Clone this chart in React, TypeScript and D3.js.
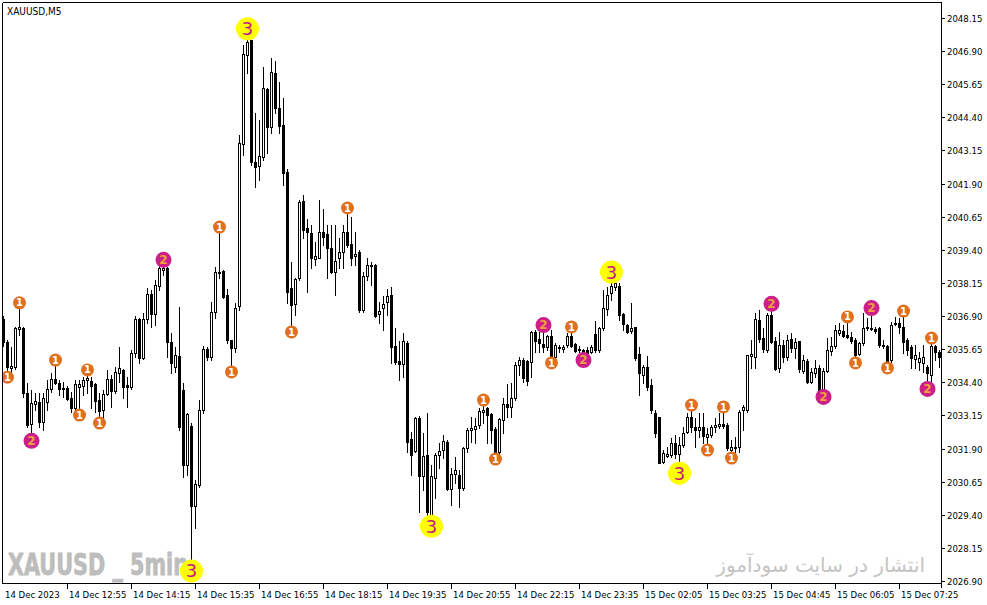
import * as d3 from 'd3';

// XAUUSD M5 bars, 14 Dec 2023 11:35 onwards
const opens = [
  2036.79, 2035.92, 2034.94, 2034.98, 2036.41, 2036.45, 2034.00, 2032.83, 2033.58, 2033.65,
  2032.90, 2033.65, 2034.15, 2034.53, 2034.38, 2034.19, 2034.19, 2033.81, 2033.43, 2034.23,
  2034.26, 2034.49, 2034.45, 2034.34, 2033.73, 2033.35, 2033.96, 2034.53, 2034.07, 2034.75,
  2034.86, 2034.30, 2034.23, 2035.51, 2036.79, 2035.32, 2036.79, 2037.74, 2036.98, 2038.04,
  2038.64, 2038.72, 2035.92, 2034.98, 2035.40, 2034.11, 2031.28, 2032.75, 2029.73, 2030.52,
  2033.35, 2035.66, 2035.36, 2037.05, 2038.53, 2038.60, 2037.70, 2036.00, 2035.70, 2037.28,
  2043.39, 2046.75, 2047.32, 2042.71, 2042.56, 2042.90, 2045.47, 2044.04, 2046.07, 2044.75,
  2044.11, 2042.34, 2037.96, 2037.36, 2038.34, 2041.24, 2040.22, 2040.03, 2039.05, 2039.09,
  2040.07, 2040.00, 2039.47, 2038.56, 2039.09, 2039.32, 2040.07, 2039.62, 2039.17, 2039.32,
  2037.13, 2038.41, 2038.79, 2038.83, 2036.98, 2037.21, 2037.43, 2037.70, 2035.77, 2035.20,
  2035.09, 2035.88, 2032.26, 2031.81, 2033.05, 2030.86, 2031.66, 2029.39, 2030.79, 2031.66,
  2031.84, 2032.15, 2030.37, 2030.94, 2030.90, 2030.41, 2031.92, 2032.60, 2032.64, 2032.79,
  2033.28, 2033.43, 2033.20, 2032.64, 2031.77, 2032.98, 2033.58, 2033.47, 2033.81, 2035.05,
  2035.24, 2035.20, 2035.17, 2036.30, 2036.03, 2035.85, 2035.73, 2036.15, 2035.36, 2035.73,
  2035.66, 2035.81, 2036.15, 2035.85, 2035.66, 2035.62, 2035.62, 2035.54, 2036.22, 2035.62,
  2036.45, 2037.17, 2037.77, 2038.00, 2038.04, 2036.98, 2036.56, 2036.34, 2036.49, 2035.47,
  2034.68, 2034.98, 2034.30, 2033.24, 2033.09, 2031.39, 2031.62, 2031.66, 2032.11, 2031.69,
  2032.03, 2032.52, 2033.09, 2032.72, 2032.60, 2032.72, 2032.34, 2032.41, 2032.72, 2032.75,
  2032.83, 2032.79, 2031.84, 2031.92, 2031.96, 2033.35, 2033.35, 2035.39, 2035.36, 2036.75,
  2036.07, 2035.62, 2036.94, 2035.96, 2034.94, 2035.81, 2035.36, 2036.03, 2035.70, 2035.96,
  2034.83, 2035.20, 2034.41, 2034.75, 2034.94, 2034.07, 2034.83, 2035.58, 2035.77, 2036.26,
  2036.34, 2036.18, 2036.11, 2036.00, 2035.47, 2035.88, 2036.45, 2036.41, 2036.41, 2036.45,
  2035.81, 2035.77, 2035.24, 2036.60, 2036.64, 2036.49, 2036.00, 2035.73, 2035.28, 2035.17,
  2035.13, 2034.98, 2034.68, 2035.77, 2035.54,
];

const highs = [
  2036.90, 2036.00, 2035.74, 2036.49, 2037.21, 2036.49, 2034.38, 2034.11, 2034.00, 2034.00,
  2034.00, 2034.49, 2034.75, 2035.05, 2034.49, 2034.41, 2034.26, 2034.03, 2034.49, 2034.49,
  2034.60, 2034.68, 2034.60, 2034.38, 2034.00, 2034.11, 2034.86, 2034.68, 2034.98, 2035.74,
  2034.90, 2034.60, 2035.62, 2036.90, 2036.83, 2037.02, 2037.96, 2037.89, 2038.26, 2038.79,
  2038.87, 2038.75, 2036.26, 2035.74, 2037.24, 2034.38, 2033.24, 2032.86, 2030.71, 2033.73,
  2035.77, 2035.74, 2037.43, 2038.75, 2040.07, 2038.64, 2037.92, 2036.00, 2037.39, 2043.73,
  2047.13, 2047.40, 2047.32, 2044.56, 2044.30, 2046.30, 2045.51, 2046.64, 2046.53, 2045.73,
  2045.13, 2042.45, 2038.94, 2038.34, 2041.28, 2041.47, 2040.56, 2040.34, 2039.70, 2041.28,
  2040.94, 2040.34, 2040.34, 2040.34, 2039.85, 2040.34, 2040.79, 2040.64, 2040.07, 2039.39,
  2038.56, 2039.09, 2038.94, 2038.87, 2037.43, 2037.66, 2037.92, 2038.00, 2036.45, 2035.96,
  2036.26, 2035.96, 2032.52, 2033.09, 2033.13, 2032.49, 2033.24, 2031.28, 2031.73, 2032.11,
  2032.41, 2032.22, 2031.17, 2031.58, 2031.09, 2031.96, 2032.68, 2033.09, 2033.05, 2033.43,
  2033.54, 2033.47, 2033.24, 2032.72, 2033.05, 2033.81, 2034.34, 2034.38, 2035.17, 2035.36,
  2035.32, 2035.24, 2036.34, 2036.37, 2036.30, 2036.41, 2036.18, 2036.37, 2035.88, 2035.81,
  2035.81, 2036.26, 2036.30, 2035.88, 2035.77, 2035.66, 2035.74, 2035.81, 2036.71, 2036.49,
  2037.89, 2038.00, 2038.22, 2038.15, 2038.15, 2037.02, 2036.60, 2037.39, 2036.49, 2035.74,
  2035.05, 2035.39, 2034.53, 2033.35, 2033.09, 2031.84, 2031.96, 2032.30, 2032.41, 2032.34,
  2032.72, 2033.24, 2033.35, 2033.05, 2033.24, 2033.24, 2032.68, 2032.79, 2033.05, 2033.24,
  2033.28, 2032.86, 2032.22, 2032.34, 2033.35, 2033.54, 2035.43, 2036.00, 2037.02, 2037.13,
  2036.45, 2037.02, 2037.21, 2036.11, 2036.30, 2036.00, 2036.18, 2036.26, 2036.07, 2035.96,
  2035.43, 2035.28, 2034.94, 2035.24, 2035.05, 2034.94, 2036.07, 2036.11, 2036.56, 2036.64,
  2036.56, 2036.68, 2036.30, 2036.07, 2035.92, 2037.02, 2036.83, 2037.05, 2036.49, 2036.49,
  2036.00, 2035.81, 2036.68, 2036.86, 2036.83, 2036.90, 2036.07, 2035.81, 2035.81, 2035.54,
  2035.81, 2035.05, 2035.88, 2035.81, 2035.62,
];

const lows = [
  2035.77, 2034.78, 2034.75, 2034.90, 2036.18, 2033.85, 2032.72, 2032.34, 2033.35, 2032.72,
  2032.60, 2033.35, 2034.03, 2034.34, 2033.92, 2033.85, 2033.73, 2033.27, 2033.27, 2033.35,
  2033.92, 2034.00, 2033.43, 2033.27, 2033.05, 2033.05, 2033.92, 2033.47, 2034.00, 2034.41,
  2033.81, 2033.47, 2034.15, 2035.36, 2035.13, 2035.28, 2036.64, 2036.49, 2036.56, 2037.89,
  2038.45, 2035.36, 2034.75, 2034.78, 2032.60, 2030.83, 2030.90, 2027.62, 2028.90, 2030.45,
  2033.24, 2035.24, 2035.24, 2036.83, 2038.34, 2037.58, 2035.88, 2034.98, 2035.54, 2037.13,
  2042.98, 2046.07, 2042.60, 2041.77, 2042.04, 2042.79, 2043.05, 2043.81, 2044.56, 2043.81,
  2041.85, 2037.39, 2036.49, 2036.94, 2038.26, 2039.85, 2037.81, 2038.72, 2038.83, 2039.09,
  2039.58, 2038.34, 2038.53, 2037.70, 2038.72, 2038.72, 2039.51, 2038.83, 2038.83, 2037.05,
  2037.05, 2038.26, 2038.07, 2036.86, 2036.64, 2036.37, 2036.94, 2035.13, 2035.09, 2034.49,
  2034.60, 2031.77, 2030.90, 2031.77, 2029.50, 2030.33, 2029.39, 2029.31, 2030.03, 2031.17,
  2031.54, 2030.33, 2029.77, 2030.60, 2029.69, 2030.33, 2031.77, 2032.15, 2032.11, 2032.68,
  2032.86, 2032.11, 2032.11, 2031.69, 2031.66, 2032.49, 2033.09, 2033.09, 2033.73, 2034.68,
  2034.41, 2034.30, 2034.60, 2035.54, 2035.54, 2035.54, 2035.62, 2035.32, 2035.24, 2035.54,
  2035.54, 2035.73, 2035.73, 2035.54, 2035.54, 2035.39, 2035.43, 2035.51, 2035.54, 2035.54,
  2036.37, 2036.94, 2037.51, 2037.89, 2036.75, 2036.37, 2036.26, 2036.26, 2035.24, 2033.92,
  2034.38, 2034.11, 2033.24, 2032.34, 2031.35, 2031.35, 2031.58, 2031.58, 2031.54, 2031.31,
  2031.96, 2032.49, 2032.52, 2031.96, 2032.34, 2032.11, 2032.03, 2032.34, 2032.52, 2032.68,
  2032.68, 2031.84, 2031.73, 2031.77, 2031.77, 2032.60, 2033.28, 2034.94, 2034.94, 2035.92,
  2035.54, 2035.54, 2035.88, 2034.86, 2034.78, 2035.17, 2035.24, 2035.54, 2035.32, 2034.78,
  2034.75, 2034.38, 2034.38, 2034.60, 2034.03, 2034.00, 2034.78, 2035.43, 2035.70, 2036.18,
  2036.11, 2036.07, 2035.88, 2035.32, 2035.43, 2035.81, 2036.37, 2036.37, 2036.26, 2035.74,
  2035.70, 2035.13, 2035.17, 2036.56, 2036.26, 2035.51, 2035.43, 2034.94, 2034.94, 2034.86,
  2034.78, 2034.30, 2034.38, 2035.24, 2034.98,
];

const closes = [
  2035.92, 2034.98, 2035.01, 2036.45, 2036.49, 2034.00, 2032.79, 2033.62, 2033.69, 2032.90,
  2033.81, 2034.15, 2034.53, 2034.38, 2034.15, 2034.15, 2033.77, 2033.43, 2034.34, 2034.34,
  2034.49, 2034.56, 2034.26, 2033.69, 2033.31, 2033.96, 2034.53, 2034.07, 2034.78, 2034.94,
  2034.23, 2034.23, 2035.51, 2036.79, 2035.32, 2036.79, 2037.74, 2036.98, 2038.07, 2038.72,
  2038.72, 2035.92, 2035.13, 2035.43, 2032.72, 2031.28, 2033.20, 2029.73, 2030.56, 2033.35,
  2035.66, 2035.36, 2037.05, 2038.56, 2038.56, 2037.62, 2036.00, 2035.70, 2037.21, 2043.43,
  2046.79, 2047.24, 2042.71, 2042.53, 2042.94, 2045.51, 2044.04, 2046.11, 2044.75, 2044.07,
  2042.30, 2037.81, 2037.32, 2038.30, 2041.20, 2040.15, 2040.07, 2039.09, 2039.17, 2040.07,
  2039.88, 2039.47, 2038.56, 2038.98, 2039.32, 2040.07, 2039.58, 2039.09, 2039.24, 2037.13,
  2038.41, 2038.83, 2038.83, 2036.90, 2037.09, 2037.36, 2037.66, 2035.73, 2035.17, 2035.09,
  2035.96, 2032.15, 2031.66, 2033.05, 2030.86, 2031.62, 2029.50, 2030.86, 2031.66, 2031.81,
  2032.19, 2030.37, 2030.94, 2031.09, 2030.41, 2031.92, 2032.60, 2032.68, 2032.75, 2033.31,
  2033.35, 2033.16, 2032.60, 2031.77, 2033.01, 2033.58, 2033.47, 2033.81, 2035.05, 2035.24,
  2034.56, 2034.45, 2036.30, 2035.96, 2035.88, 2035.73, 2036.15, 2035.36, 2035.81, 2035.70,
  2035.73, 2036.15, 2035.77, 2035.58, 2035.62, 2035.47, 2035.51, 2035.74, 2035.62, 2036.45,
  2037.21, 2037.70, 2038.04, 2038.15, 2036.94, 2036.60, 2036.30, 2036.45, 2035.32, 2034.75,
  2034.98, 2034.23, 2033.35, 2032.49, 2031.35, 2031.73, 2031.69, 2032.11, 2031.69, 2032.03,
  2032.49, 2033.09, 2032.72, 2032.60, 2032.72, 2032.38, 2032.45, 2032.72, 2032.79, 2032.83,
  2032.75, 2031.92, 2031.96, 2031.96, 2033.28, 2033.47, 2035.43, 2035.47, 2036.79, 2036.03,
  2035.66, 2036.94, 2035.92, 2034.90, 2035.81, 2035.36, 2036.00, 2035.70, 2035.92, 2034.90,
  2035.24, 2034.41, 2034.78, 2034.94, 2034.07, 2034.83, 2035.62, 2035.77, 2036.37, 2036.37,
  2036.15, 2036.11, 2035.96, 2035.43, 2035.88, 2036.45, 2036.49, 2036.45, 2036.34, 2035.81,
  2035.77, 2035.20, 2036.56, 2036.64, 2036.49, 2035.92, 2035.62, 2035.32, 2035.43, 2035.32,
  2035.36, 2034.75, 2035.77, 2035.54, 2035.36,
];

// zigzag signal markers (bar index, level 1/2/3, side)
const signalBars = [1, 4, 7, 13, 19, 21, 24, 40, 47, 54, 57, 61, 72, 86, 107, 120, 123, 135, 137, 142, 145, 152, 169, 172, 176, 180, 182, 192, 205, 211, 213, 217, 221, 225, 231, 232];
const signalLevels = [1, 1, 2, 1, 1, 1, 1, 2, 3, 1, 1, 3, 1, 1, 3, 1, 1, 2, 1, 1, 2, 3, 3, 1, 1, 1, 1, 2, 2, 1, 1, 2, 1, 1, 2, 1];
const signalSides = ['low', 'high', 'low', 'high', 'low', 'high', 'low', 'high', 'low', 'high', 'low', 'high', 'low', 'high', 'low', 'high', 'low', 'high', 'low', 'high', 'low', 'high', 'low', 'high', 'low', 'high', 'low', 'high', 'low', 'high', 'low', 'high', 'low', 'high', 'low', 'high'];

const priceTicks = [2026.90, 2028.15, 2029.40, 2030.65, 2031.90, 2033.15, 2034.40, 2035.65, 2036.90, 2038.15, 2039.40, 2040.65, 2041.90, 2043.15, 2044.40, 2045.65, 2046.90, 2048.15];
const timeLabels = ['14 Dec 2023', '14 Dec 12:55', '14 Dec 14:15', '14 Dec 15:35', '14 Dec 16:55', '14 Dec 18:15', '14 Dec 19:35', '14 Dec 20:55', '14 Dec 22:15', '14 Dec 23:35', '15 Dec 02:05', '15 Dec 03:25', '15 Dec 04:45', '15 Dec 06:05', '15 Dec 07:25'];
const labelEvery = 16;

const W = 987;
const H = 605;
const plot = { left: 3, right: 941, top: 3, bottom: 583 };
const axisFont = '"DejaVu Sans Condensed", "DejaVu Sans", sans-serif';

const markerStyle: Record<number, { r: number; fill: string; text: string; size: number; off: number }> = {
  1: { r: 6.5, fill: '#e0701e', text: '#ffffff', size: 10, off: 5 },
  2: { r: 8, fill: '#cc1f8a', text: '#f0a040', size: 12, off: 4 },
  3: { r: 11.5, fill: '#ffff00', text: '#c71585', size: 18, off: 9 },
};

export default function App() {
  const x = d3.scaleBand<number>().domain(d3.range(opens.length)).range([1, 941]);
  const y = d3.scaleLinear().domain([2026.9, 2048.15]).range([581, 18]);
  const cx = (i: number) => x(i)! + 2;

  return (
    <div style={{ position: 'fixed', left: 0, top: 0 }}>
      <svg width={W} height={H} style={{ display: 'block', background: '#fff' }}>
        <defs>
          <clipPath id="plotClip">
            <rect x={plot.left} y={plot.top} width={plot.right - plot.left} height={plot.bottom - plot.top} />
          </clipPath>
        </defs>

        {/* watermarks */}
        <text x={8} y={575} fontFamily='"DejaVu Sans Condensed", "DejaVu Sans", sans-serif' fontWeight="bold" fontSize={30} fill="#bdbdbd" textLength={180} lengthAdjust="spacingAndGlyphs" stroke="#bdbdbd" strokeWidth={0.8}>
          XAUUSD _ 5min
        </text>
        <text x={925} y={572} fontFamily='"DejaVu Sans", sans-serif' fontSize={20} fill="#c4c4c4" textAnchor="end">
          انتشار در سایت سودآموز
        </text>

        <text x={7} y={15} fontFamily={axisFont} fontSize={10} fill="#000">XAUUSD,M5</text>

        <g clipPath="url(#plotClip)" shapeRendering="crispEdges">
          {opens.map((o, i) => {
            const c = cx(i);
            const cl = closes[i];
            const hi = Math.round(y(highs[i]));
            const lo = Math.round(y(lows[i]));
            const top = Math.round(y(Math.max(o, cl)));
            const bot = Math.round(y(Math.min(o, cl)));
            const bull = cl >= o;
            return (
              <g key={i}>
                <line x1={c + 0.5} x2={c + 0.5} y1={hi} y2={lo + 1} stroke="#000" strokeWidth={1} />
                {bull && bot - top > 1 ? (
                  <rect x={c - 0.5} y={top + 0.5} width={2} height={bot - top} fill="#fff" stroke="#000" strokeWidth={1} />
                ) : (
                  <rect x={c - 1} y={top} width={3} height={Math.max(bot - top + 1, 1)} fill="#000" />
                )}
              </g>
            );
          })}
        </g>

        <g clipPath="url(#plotClip)">
          {signalBars.map((b, k) => {
            const s = markerStyle[signalLevels[k]];
            const mx = cx(b) + 0.5;
            const my = signalSides[k] === 'high' ? y(highs[b]) - s.off : y(lows[b]) + s.off;
            return (
              <g key={k}>
                <circle cx={mx} cy={my} r={s.r} fill={s.fill} />
                <text x={mx} y={my} dy="0.36em" textAnchor="middle" fontFamily='"DejaVu Sans", sans-serif' fontWeight={signalLevels[k] === 3 ? 'normal' : 'bold'} fontSize={s.size} fill={s.text}>
                  {signalLevels[k]}
                </text>
              </g>
            );
          })}
        </g>

        {/* frame */}
        <g shapeRendering="crispEdges" stroke="#000" strokeWidth={1}>
          <line x1={2.5} x2={2.5} y1={2.5} y2={583.5} />
          <line x1={2.5} x2={941.5} y1={2.5} y2={2.5} />
          <line x1={941.5} x2={941.5} y1={2.5} y2={588} />
          <line x1={2.5} x2={941.5} y1={583.5} y2={583.5} />
        </g>

        {/* price axis */}
        <g fontFamily={axisFont} fontSize={9.5} fill="#000">
          {priceTicks.map((p) => {
            const ty = Math.round(y(p)) + 0.5;
            return (
              <g key={p}>
                <line x1={941} x2={945} y1={ty} y2={ty} stroke="#000" shapeRendering="crispEdges" />
                <text x={947} y={ty} dy="0.35em">{p.toFixed(2)}</text>
              </g>
            );
          })}
        </g>

        {/* time axis */}
        <g fontFamily={axisFont} fontSize={9.5} fill="#000">
          {timeLabels.map((t, k) => {
            const c = cx(k * labelEvery);
            return (
              <g key={t}>
                {k > 0 && <line x1={c + 0.5} x2={c + 0.5} y1={584} y2={589} stroke="#000" shapeRendering="crispEdges" />}
                <text x={k === 0 ? 5 : c + 2} y={598}>{t}</text>
              </g>
            );
          })}
        </g>
      </svg>
    </div>
  );
}
